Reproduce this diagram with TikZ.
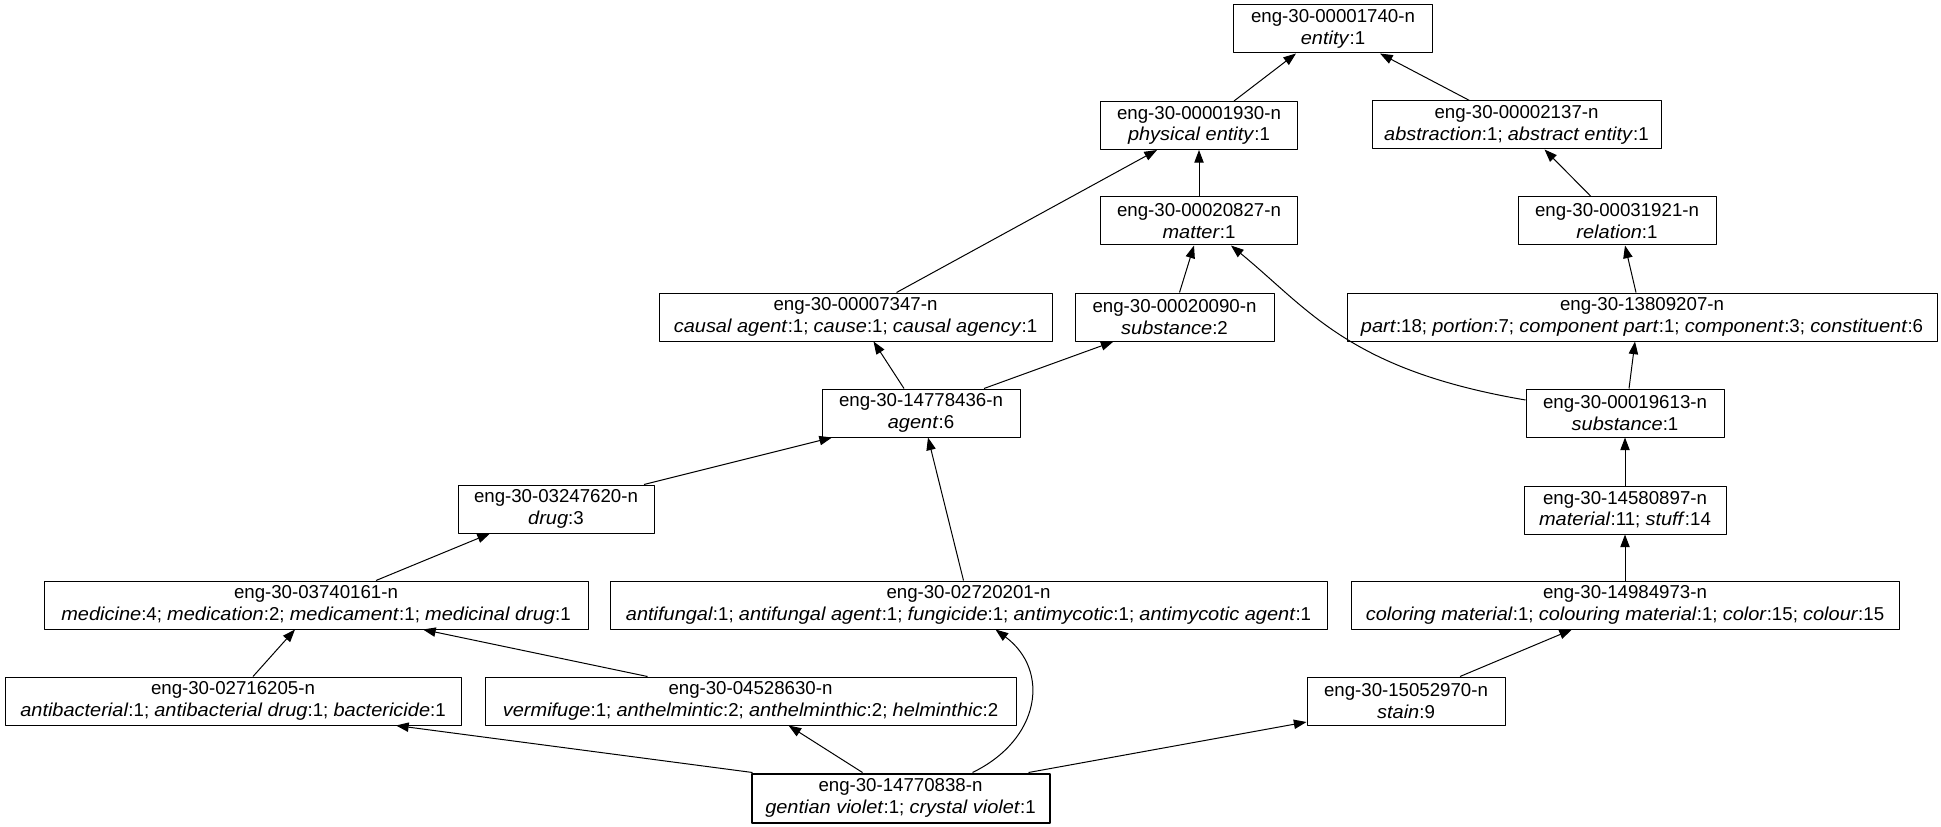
\documentclass[tikz,border=0pt]{standalone}
\usepackage{fontspec}
\setmainfont{Liberation Sans}[ItalicFeatures={FakeStretch=1.07}]
\usetikzlibrary{arrows.meta,calc}

\begin{document}
\begin{tikzpicture}[x=0.75pt,y=-0.75pt,line join=round,
  syn/.style={draw,line width=0.75pt,minimum height=36pt,inner sep=0pt,align=center,
    font=\fontsize{14pt}{16pt}\selectfont},
  isa/.style={line width=0.75pt,-{Triangle[length=9.5pt,width=7pt]}}]
\useasboundingbox (0,0) rectangle (1941,827);
% hypernym chain of gentian violet, up to entity

% synsets, row by row
\node[syn,minimum width=149.25pt] (entity) at (1333,29) {eng-30-00001740-n\\\textit{entity}:1};

\node[syn,minimum width=147.75pt] (phys) at (1199,125.5) {eng-30-00001930-n\\\textit{physical entity}:1};
\node[syn,minimum width=216.75pt] (abstr) at (1516.5,125) {eng-30-00002137-n\\\textit{abstraction}:1; \textit{abstract entity}:1};

\node[syn,minimum width=147.75pt] (matter) at (1199,221) {eng-30-00020827-n\\\textit{matter}:1};
\node[syn,minimum width=148.5pt] (relation) at (1617,221) {eng-30-00031921-n\\\textit{relation}:1};

\node[syn,minimum width=294.75pt] (causal) at (855.5,317) {eng-30-00007347-n\\\textit{causal agent}:1; \textit{cause}:1; \textit{causal agency}:1};
\node[syn,minimum width=149.25pt] (subtwo) at (1174.5,317) {eng-30-00020090-n\\\textit{substance}:2};
\node[syn,minimum width=442.5pt] (part) at (1642,317) {eng-30-13809207-n\\\textit{part}:18; \textit{portion}:7; \textit{component part}:1; \textit{component}:3; \textit{constituent}:6};

\node[syn,minimum width=148.5pt] (agent) at (921,413) {eng-30-14778436-n\\\textit{agent}:6};
\node[syn,minimum width=148.5pt] (subone) at (1625,413) {eng-30-00019613-n\\\textit{substance}:1};

\node[syn,minimum width=147pt] (drug) at (556,509) {eng-30-03247620-n\\\textit{drug}:3};
\node[syn,minimum width=151.5pt] (material) at (1625,510) {eng-30-14580897-n\\\textit{material}:11; \textit{stuff}:14};

\node[syn,minimum width=408pt] (medicine) at (316,605) {eng-30-03740161-n\\\textit{medicine}:4; \textit{medication}:2; \textit{medicament}:1; \textit{medicinal drug}:1};
\node[syn,minimum width=537.75pt] (antifungal) at (968.5,605) {eng-30-02720201-n\\\textit{antifungal}:1; \textit{antifungal agent}:1; \textit{fungicide}:1; \textit{antimycotic}:1; \textit{antimycotic agent}:1};
\node[syn,minimum width=411pt] (coloring) at (1625,605) {eng-30-14984973-n\\\textit{coloring material}:1; \textit{colouring material}:1; \textit{color}:15; \textit{colour}:15};

\node[syn,minimum width=342pt] (antibact) at (233,701) {eng-30-02716205-n\\\textit{antibacterial}:1; \textit{antibacterial drug}:1; \textit{bactericide}:1};
\node[syn,minimum width=398.25pt] (vermifuge) at (750.5,701) {eng-30-04528630-n\\\textit{vermifuge}:1; \textit{anthelmintic}:2; \textit{anthelminthic}:2; \textit{helminthic}:2};
\node[syn,minimum width=148.5pt] (stain) at (1406,701) {eng-30-15052970-n\\\textit{stain}:9};

\node[syn,line width=1.5pt,minimum width=223.5pt,minimum height=36.75pt] (gentian) at (900.5,798) {eng-30-14770838-n\\\textit{gentian violet}:1; \textit{crystal violet}:1};

% is-a links, child to parent
\draw[isa] ($(phys.north)+(35,0)$) -- ($(entity.south)+(-37,0)$);
\draw[isa] ($(abstr.north)+(-47,0)$) -- ($(entity.south)+(47,0)$);
\draw[isa] (matter.north) -- (phys.south);
\draw[isa] ($(relation.north)+(-26,0)$) -- ($(abstr.south)+(28,0)$);
\draw[isa] ($(causal.north)+(41,0)$) -- ($(phys.south)+(-42,0)$);
\draw[isa] ($(subtwo.north)+(5,0)$) -- ($(matter.south)+(-5,0)$);
\draw[isa] ($(subone.west)+(0,-13)$) .. controls +(-176,-30) and +(79,65) .. ($(matter.south)+(32,0)$);
\draw[isa] ($(part.north)+(-6,0)$) -- ($(relation.south)+(8,0)$);
\draw[isa] ($(agent.north)+(-17,0)$) -- ($(causal.south)+(18,0)$);
\draw[isa] ($(agent.north)+(63,0)$) -- ($(subtwo.south)+(-61,0)$);
\draw[isa] ($(subone.north)+(4,0)$) -- ($(part.south)+(-7,0)$);
\draw[isa] ($(drug.north)+(88,0)$) -- ($(agent.south)+(-89,0)$);
\draw[isa] (material.north) -- (subone.south);
\draw[isa] ($(medicine.north)+(60,0)$) -- ($(drug.south)+(-66,0)$);
\draw[isa] ($(antifungal.north)+(-5,0)$) -- ($(agent.south)+(7,0)$);
\draw[isa] (coloring.north) -- (material.south);
\draw[isa] ($(antibact.north)+(20,0)$) -- ($(medicine.south)+(-21,0)$);
\draw[isa] ($(vermifuge.north)+(-103,0)$) -- ($(medicine.south)+(107,0)$);
\draw[isa] ($(stain.north)+(54,0)$) -- ($(coloring.south)+(-53,0)$);
\draw[isa] ($(gentian.north)+(-148,0)$) -- ($(antibact.south)+(163,0)$);
\draw[isa] ($(gentian.north)+(-38,0)$) -- ($(vermifuge.south)+(38,0)$);
\draw[isa] ($(gentian.north)+(72,0)$) .. controls +(68,-33) and +(55,41) .. ($(antifungal.south)+(27,0)$);
\draw[isa] ($(gentian.north)+(128,0)$) -- ($(stain.west)+(0,21)$);

\end{tikzpicture}
\end{document}
